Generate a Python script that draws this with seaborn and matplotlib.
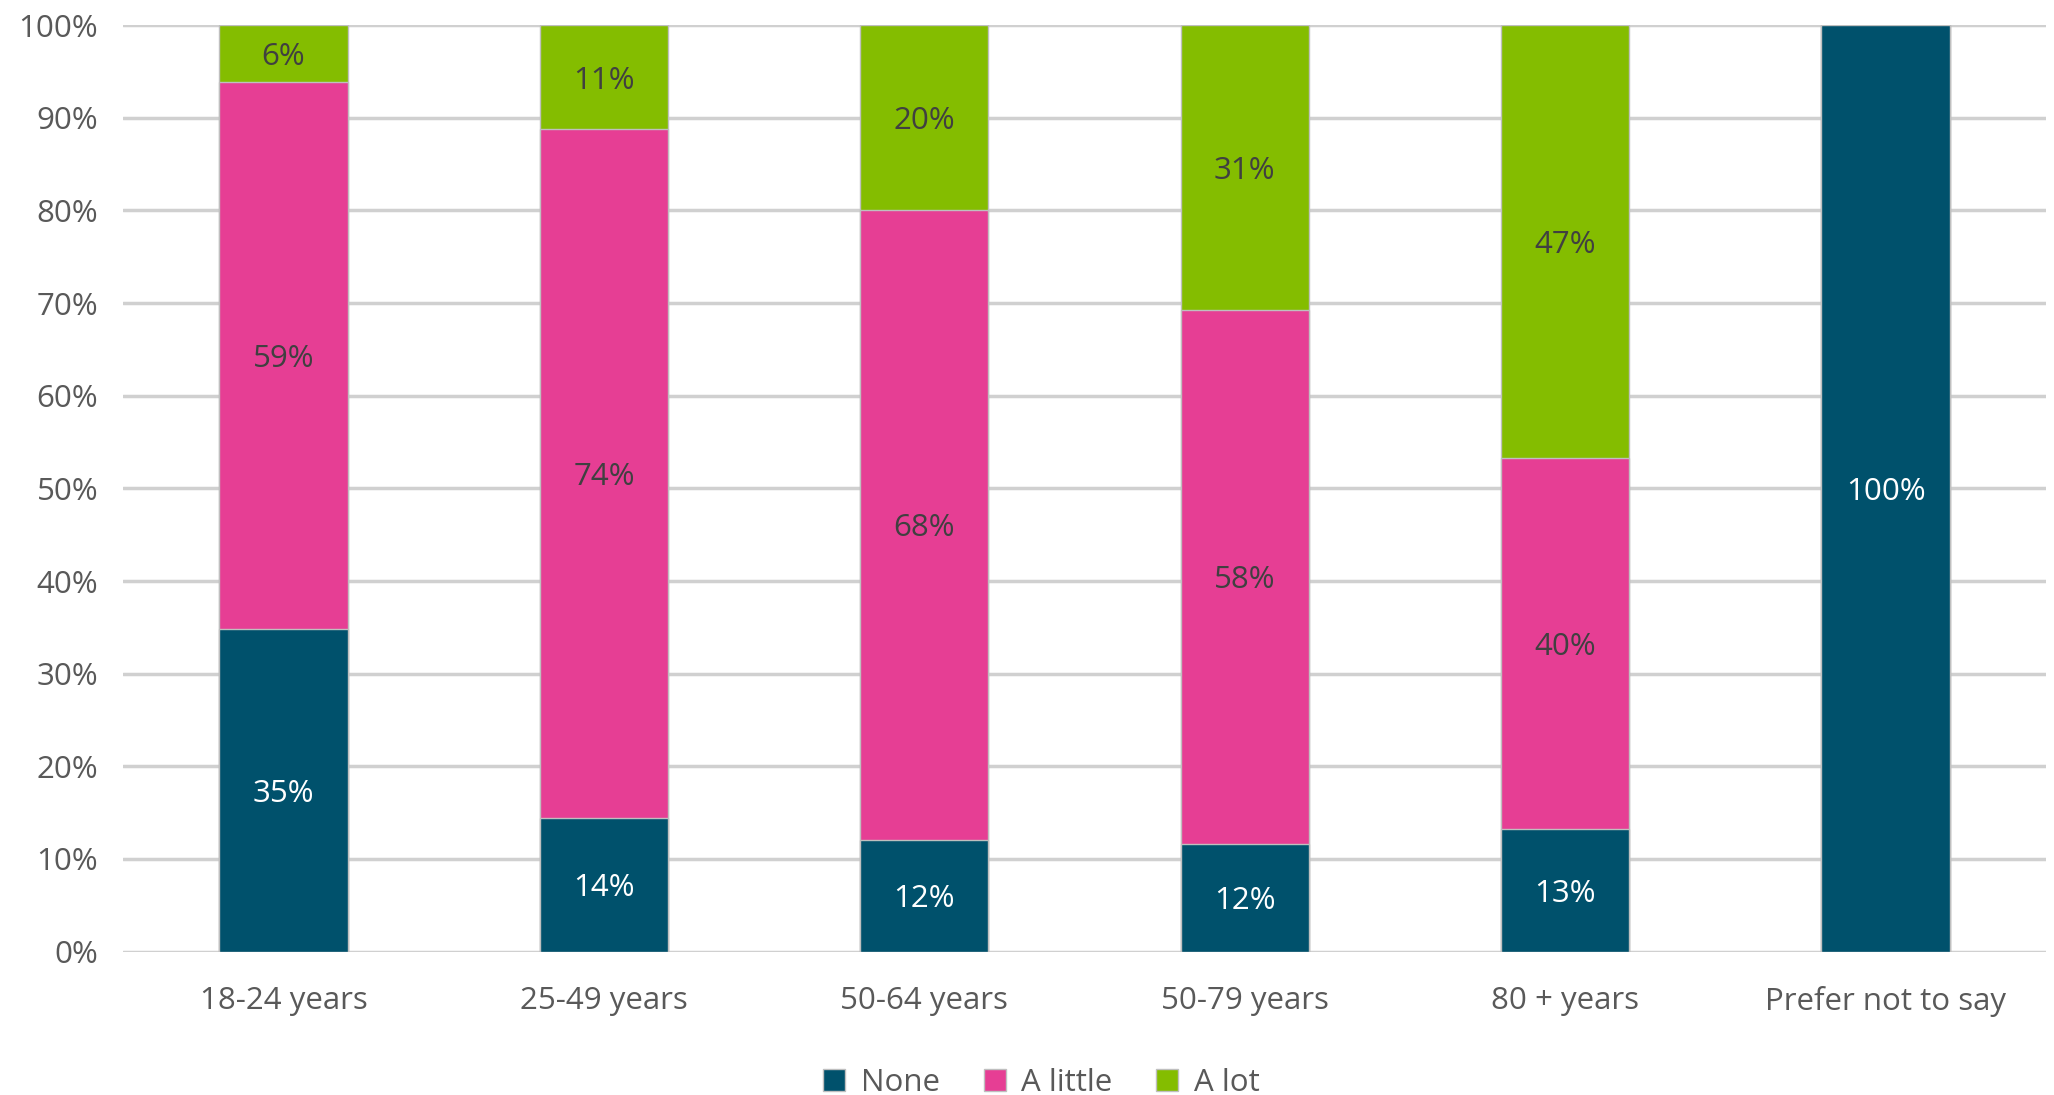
import matplotlib
matplotlib.use("Agg")
import matplotlib.pyplot as plt
import seaborn as sns
import pandas as pd
import numpy as np
from matplotlib.patches import Patch

categories = ["18-24 years", "25-49 years", "50-64 years", "50-79 years", "80 + years", "Prefer not to say"]
none_vals = [34.8, 14.4, 12.0, 11.6, 13.2, 100.0]
little_vals = [59.1, 74.4, 68.1, 57.7, 40.1, 0.0]
lot_vals = [6.1, 11.2, 19.9, 30.7, 46.7, 0.0]
series_names = ["None", "A little", "A lot"]
colors = ["#00516C", "#E63E94", "#84BD00"]
text_colors = ["white", "#404040", "#404040"]
yticks = list(range(0, 101, 10))

sns.set_theme(style="white")
plt.rcParams['font.family'] = ['Open Sans', 'DejaVu Sans']

fig = plt.figure(figsize=(20.54, 10.95), dpi=100)
ax = fig.add_axes([0.060, 0.131, 0.936, 0.846])

df = pd.DataFrame({"cat": categories, "None": none_vals, "A little": little_vals, "A lot": lot_vals})
df["c1"] = df["None"]
df["c2"] = df["None"] + df["A little"]
df["c3"] = df["c2"] + df["A lot"]

for col, color in zip(["c3", "c2", "c1"], colors[::-1]):
    sns.barplot(data=df, x="cat", y=col, color=color, width=0.40, ax=ax,
                edgecolor="#BFBFBF", linewidth=1.0, saturation=1, zorder=3)

ax.set_ylim(0, 100)
ax.set_xlim(-0.5, len(categories) - 0.5)
ax.set_yticks(yticks)
ax.set_yticklabels([f"{t}%" for t in yticks])
ax.yaxis.grid(True, color="#D0D0D0", linewidth=2.5, zorder=0)
ax.set_axisbelow(True)
for s in ax.spines.values():
    s.set_visible(False)
ax.set_xlabel("")
ax.set_ylabel("")
ax.tick_params(axis="y", labelsize=22.5, colors="#595959", pad=18, length=0)
ax.tick_params(axis="x", labelsize=22.5, colors="#595959", pad=25, length=0)

# segment labels
bases = np.zeros(len(categories))
for vals, tc in zip([none_vals, little_vals, lot_vals], text_colors):
    for i, v in enumerate(vals):
        if v > 0:
            ax.text(i, bases[i] + v / 2, f"{round(v)}%", ha="center", va="center_baseline",
                    fontsize=22.5, color=tc, zorder=5)
    bases = bases + np.array(vals)

handles = [Patch(facecolor=c, edgecolor="#BFBFBF", label=n) for c, n in zip(colors, series_names)]
fig.legend(handles=handles, loc="center", bbox_to_anchor=(0.507, 0.011), ncol=3, frameon=False,
           fontsize=22.5, handlelength=0.7, handleheight=0.7, handletextpad=0.5, columnspacing=1.4,
           labelcolor="#595959")

fig.savefig("out.png", dpi=100)
